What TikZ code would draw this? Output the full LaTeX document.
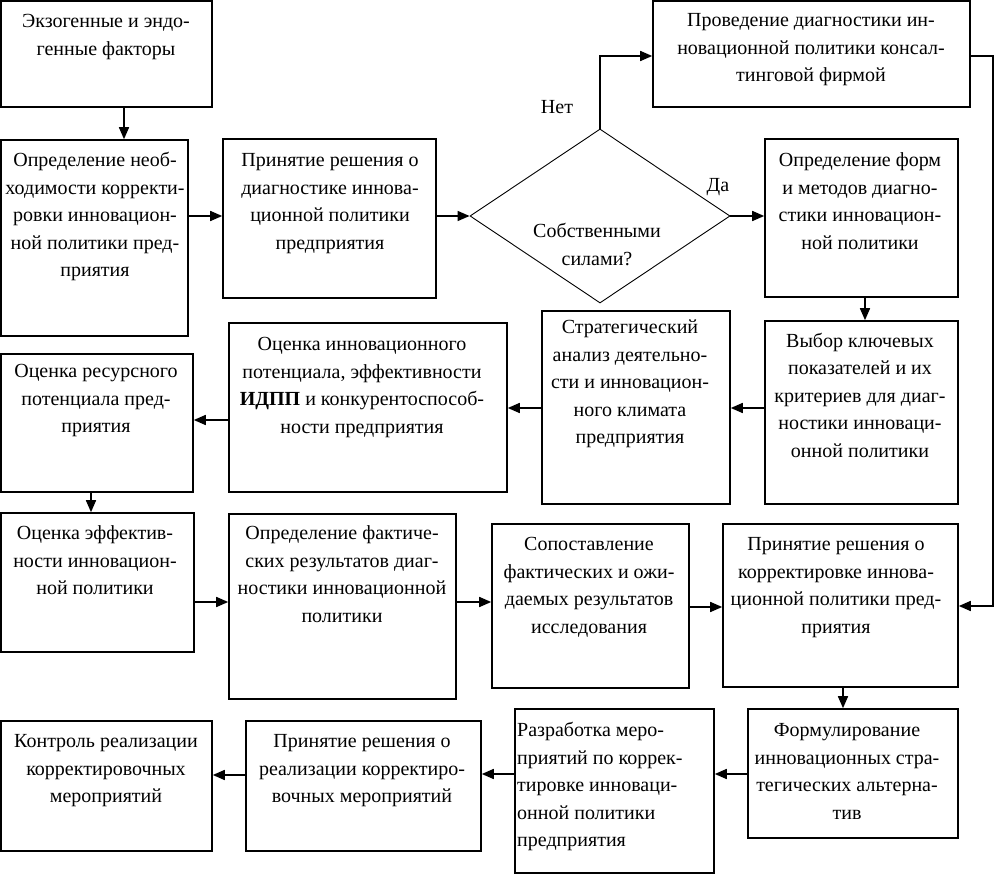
\documentclass[tikz,border=0pt]{standalone}
\usepackage{fontspec}
\setmainfont{Liberation Serif}
\newfontfamily\tmsfont{Liberation Serif}
\usetikzlibrary{arrows.meta,shapes.geometric,fit}
\begin{document}
\begin{tikzpicture}[x=1pt,y=-1pt,
  box/.style={draw, line width=1.6pt, inner sep=0pt},
  txt/.style={font=\tmsfont\fontsize{20}{27.5}\selectfont, align=center, inner sep=0pt, anchor=north},
  lbl/.style={font=\tmsfont\fontsize{20}{27.5}\selectfont, inner sep=0pt},
  arr/.style={line width=1.6pt, -{Triangle[length=12pt,width=10pt]}},
  decision/.style={draw, diamond, line width=0.9pt, inner sep=0pt, minimum width=260pt, minimum height=174pt}]
\useasboundingbox (0,0) rectangle (996,874);
% boxes
\node[box, fit={(1,1) (212,107)}] (b1) {};
\node[box, fit={(1,140) (188,336)}] (b2) {};
\node[box, fit={(223,139) (436,298)}] (b3) {};
\node[decision] (dia) at (600,216) {};
\node[box, fit={(653,1) (970,107)}] (b4) {};
\node[box, fit={(765,139) (958,297)}] (b5) {};
\node[box, fit={(1,354) (193,492)}] (b6) {};
\node[box, fit={(229,323) (507,492)}] (b7) {};
\node[box, fit={(542,311) (730,504)}] (b8) {};
\node[box, fit={(765,321) (958,504)}] (b9) {};
\node[box, fit={(1,513) (194,652)}] (b10) {};
\node[box, fit={(229,514) (456,699)}] (b11) {};
\node[box, fit={(492,524) (689,688)}] (b12) {};
\node[box, fit={(723,524) (958,687)}] (b13) {};
\node[box, fit={(1,721) (212,851)}] (b14) {};
\node[box, fit={(246,721) (481,851)}] (b15) {};
\node[box, fit={(515,709) (714,873)}] (b16) {};
\node[box, fit={(748,709) (958,838)}] (b17) {};
% texts
\node[txt] (t1) at (106,8.5) {\strut Экзогенные и эндо-\\генные факторы};
\node[txt] (t2) at (95,147.5) {\strut Определение необ-\\ходимости корректи-\\ровки инновацион-\\ной политики пред-\\приятия};
\node[txt] (t3) at (330,147.5) {\strut Принятие решения о\\диагностике иннова-\\ционной политики\\предприятия};
\node[txt] (td) at (597,218.5) {\strut Собственными\\силами?};
\node[lbl] (tnet) at (557,107) {Нет};
\node[lbl] (tda) at (718,187) {Да};
\node[txt] (t4) at (811,7.5) {\strut Проведение диагностики ин-\\новационной политики консал-\\тинговой фирмой};
\node[txt] (t5) at (860,147.5) {\strut Определение форм\\и методов диагно-\\стики инновацион-\\ной политики};
\node[txt] (t6) at (96,358.5) {\strut Оценка ресурсного\\потенциала пред-\\приятия};
\node[txt] (t7) at (362,331.5) {\strut Оценка инновационного\\потенциала, эффективности\\\textbf{ИДПП} и конкурентоспособ-\\ности предприятия};
\node[txt] (t8) at (630,314.5) {\strut Стратегический\\анализ деятельно-\\сти и инновацион-\\ного климата\\предприятия};
\node[txt] (t9) at (860,328) {\strut Выбор ключевых\\показателей и их\\критериев для диаг-\\ностики инноваци-\\онной политики};
\node[txt] (t10) at (95,520.5) {\strut Оценка эффектив-\\ности инновацион-\\ной политики};
\node[txt] (t11) at (342,520.5) {\strut Определение фактиче-\\ских результатов диаг-\\ностики инновационной\\политики};
\node[txt] (t12) at (589,531.5) {\strut Сопоставление\\фактических и ожи-\\даемых результатов\\исследования};
\node[txt] (t13) at (836,531.5) {\strut Принятие решения о\\корректировке иннова-\\ционной политики пред-\\приятия};
\node[txt] (t14) at (106,728.5) {\strut Контроль реализации\\корректировочных\\мероприятий};
\node[txt] (t15) at (362,728.5) {\strut Принятие решения о\\реализации корректиро-\\вочных мероприятий};
\node[txt, align=left, anchor=north west] (t16) at (517,717.5) {\strut Разработка меро-\\приятий по коррек-\\тировке инноваци-\\онной политики\\предприятия};
\node[txt] (t17) at (847,717.5) {\strut Формулирование\\инновационных стра-\\тегических альтерна-\\тив};
% connectors
\draw[arr] (b1.south -| 124,0) -- (b2.north -| 124,0);
\draw[arr] (b2.east |- 0,216) -- (b3.west |- 0,216);
\draw[arr] (b3.east |- dia.west) -- (dia.west);
\draw[arr] (dia.north) |- (b4.west |- 0,56);
\draw[arr] (dia.east) -- (b5.west |- dia.east);
\draw[arr] (b4.east |- 0,56) -| (993,606) -- (b13.east |- 0,606);
\draw[arr] (b5.south -| 865,0) -- (b9.north -| 865,0);
\draw[arr] (b9.west |- 0,408) -- (b8.east |- 0,408);
\draw[arr] (b8.west |- 0,408) -- (b7.east |- 0,408);
\draw[arr] (b7.west |- 0,420) -- (b6.east |- 0,420);
\draw[arr] (b6.south -| 91,0) -- (b10.north -| 91,0);
\draw[arr] (b10.east |- 0,602) -- (b11.west |- 0,602);
\draw[arr] (b11.east |- 0,602) -- (b12.west |- 0,602);
\draw[arr] (b12.east |- 0,607) -- (b13.west |- 0,607);
\draw[arr] (b13.south -| 843,0) -- (b17.north -| 843,0);
\draw[arr] (b17.west |- 0,774) -- (b16.east |- 0,774);
\draw[arr] (b16.west |- 0,774) -- (b15.east |- 0,774);
\draw[arr] (b15.west |- 0,775) -- (b14.east |- 0,775);
\end{tikzpicture}
\end{document}
